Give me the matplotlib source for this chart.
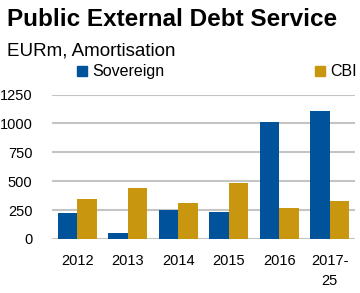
import matplotlib
matplotlib.use("Agg")
import matplotlib.pyplot as plt
from matplotlib.patches import Rectangle
import numpy as np

plt.rcParams['font.family'] = ['Liberation Sans', 'DejaVu Sans']

categories = ["2012", "2013", "2014", "2015", "2016", "2017-\n25"]
sovereign = [227, 52, 253, 234, 1012, 1107]
cbi = [346, 444, 311, 484, 268, 329]
yticks = [0, 250, 500, 750, 1000, 1250]

BLUE = "#00529B"
GOLD = "#C8960F"
W, H = 360, 293

fig = plt.figure(figsize=(W / 100, H / 100), dpi=100)

def fx(px):
    return px / W

def fy(py):
    return 1 - py / H

ax = fig.add_axes([fx(52), fy(239), fx(355) - fx(52), fy(94.5) - fy(239)])
x = np.arange(len(categories))
bw = 0.39
ax.bar(x - bw / 2, sovereign, width=bw, color=BLUE, zorder=3)
ax.bar(x + bw / 2, cbi, width=bw, color=GOLD, zorder=3)
ax.set_xlim(-0.5, len(categories) - 0.5)
ax.set_ylim(0, 1250)
ax.set_yticks(yticks)
ax.set_yticklabels([str(v) for v in yticks], fontsize=10.5)
ax.set_xticks(x)
ax.set_xticklabels(categories, fontsize=10.5, linespacing=1.55, va='top')
for s in ax.spines.values():
    s.set_visible(False)
ax.tick_params(axis='both', length=0)
ax.tick_params(axis='y', pad=14)
ax.tick_params(axis='x', pad=11)
ax.yaxis.grid(True, color="#C4C4C4", linewidth=1.5, zorder=0)
ax.set_axisbelow(True)

fig.text(fx(7), fy(20), "Public External Debt Service", fontsize=17.5,
         fontweight='bold', ha='left', va='center')
fig.text(fx(7), fy(51), "EURm, Amortisation", fontsize=13.5, ha='left', va='center')

for sx, label, col in [(77, "Sovereign", BLUE), (315, "CBI", GOLD)]:
    fig.add_artist(Rectangle((fx(sx), fy(76)), fx(10), fy(66) - fy(76),
                             transform=fig.transFigure, color=col))
    fig.text(fx(sx + 15), fy(71), label, fontsize=11.5, ha='left', va='center')

fig.savefig("out.png", dpi=100)
